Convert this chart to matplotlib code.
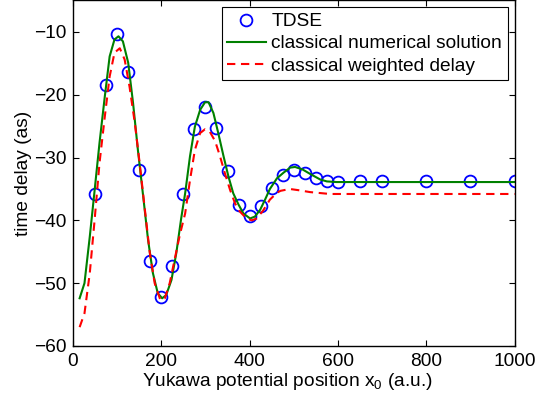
"""Time delay vs Yukawa potential position: TDSE vs classical"""

import numpy as np
import matplotlib
matplotlib.use('Agg')
import matplotlib.pyplot as plt

plt.rcParams['font.family'] = ['Liberation Sans', 'DejaVu Sans']
plt.rcParams['font.size'] = 13.8
plt.rcParams['mathtext.fontset'] = 'custom'
plt.rcParams['mathtext.rm'] = 'Liberation Sans'
plt.rcParams['mathtext.it'] = 'Liberation Sans'

# TDSE points
x_tdse = [50, 75, 100, 125, 150, 175, 200, 225, 250, 275, 300, 325, 350, 375,
          400, 425, 450, 475, 500, 525, 550, 575, 600, 650, 700, 800, 900, 1000]
y_tdse = [-35.8, -18.4, -10.3, -16.4, -32.0, -46.5, -52.2, -47.3, -35.8, -25.5,
          -21.9, -25.3, -32.1, -37.5, -39.3, -37.7, -34.9, -32.8, -32.0, -32.5,
          -33.3, -33.7, -33.9, -33.8, -33.8, -33.8, -33.8, -33.8]

# classical numerical solution (green)
x_num = [15, 26, 38, 49, 60, 72, 83, 94, 103, 113, 125, 136, 147, 159, 170,
         181, 192, 202, 211, 223, 234, 245, 254, 265, 276, 288, 299, 307, 318,
         329, 341, 352, 363, 375, 386, 401, 412, 424, 435, 446, 462, 477, 492,
         503, 520, 537, 560, 575, 597, 650, 700, 800, 900, 1000]
y_num = [-52.4, -50.0, -42.6, -35.2, -27.7, -20.3, -13.9, -11.2, -10.7, -11.5,
         -14.9, -21.3, -28.8, -36.2, -43.1, -48.4, -51.6, -52.4, -51.9, -49.5,
         -45.2, -39.7, -35.7, -29.8, -25.1, -22.4, -21.2, -21.2, -22.9, -26.1,
         -29.8, -33.0, -35.7, -37.5, -38.9, -39.7, -39.4, -38.3, -36.7, -35.0,
         -33.3, -32.4, -31.6, -31.5, -31.9, -32.6, -33.5, -33.8, -33.9, -33.9,
         -33.9, -33.9, -33.9, -33.9]

# classical weighted delay (red dashed)
x_wd = [15, 26, 38, 49, 60, 72, 83, 94, 106, 117, 128, 140, 151, 162, 174,
        185, 198, 208, 219, 230, 242, 254, 265, 276, 288, 299, 310, 322, 333,
        344, 356, 367, 378, 393, 405, 416, 431, 446, 462, 470, 491, 511, 537,
        582, 650, 800, 1000]
y_wd = [-57.0, -54.8, -48.4, -39.9, -30.9, -23.5, -17.1, -13.3, -12.6, -14.4,
        -18.7, -24.5, -30.9, -37.8, -45.2, -50.0, -52.7, -52.4, -50.0, -46.3,
        -42.3, -38.9, -33.6, -28.8, -26.1, -25.5, -25.9, -27.4, -29.8, -32.5,
        -35.2, -37.3, -38.6, -39.7, -40.0, -39.7, -38.4, -36.7, -35.6, -35.3,
        -35.0, -35.2, -35.5, -35.8, -35.8, -35.8, -35.8]

fig = plt.figure(figsize=(5.35, 3.94), dpi=100)
ax = fig.add_axes([73/535, 48/394, 441.5/535, 345.5/394])

ax.plot(x_tdse, y_tdse, 'o', mfc='none', mec='b', ms=8.5, mew=1.3, label='TDSE')
ax.plot(x_num, y_num, '-', color=(0, 0.5, 0), lw=1.5, label='classical numerical solution')
ax.plot(x_wd, y_wd, '--', color='r', lw=1.5, dashes=(4, 2.7), label='classical weighted delay')

ax.set_xlim(0, 1000)
ax.set_ylim(-60, -5)
ax.set_xticks(np.arange(0, 1001, 200))
ax.set_yticks(np.arange(-60, -9, 10))
ax.tick_params(direction='in', top=True, right=True, length=4, width=0.8, pad=5)
for s in ax.spines.values():
    s.set_linewidth(1.0)

ax.set_xlabel('Yukawa potential position x$_0$ (a.u.)')
ax.xaxis.set_label_coords(0.485, -0.072)
ax.set_ylabel('time delay (as)')
ax.yaxis.set_label_coords(-0.093, 0.5)

leg = ax.legend(loc='upper right', bbox_to_anchor=(0.985, 0.981), borderaxespad=0,
                fancybox=False, edgecolor='k', framealpha=1, handlelength=2.0,
                handletextpad=0.3, labelspacing=0.25, borderpad=0.3, numpoints=1)
leg.get_frame().set_linewidth(0.8)

fig.savefig('out.png', dpi=100)
